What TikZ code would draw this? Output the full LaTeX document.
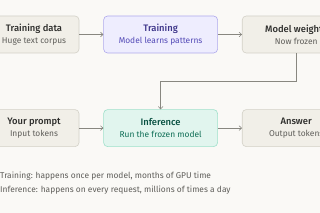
\documentclass[tikz,border=0pt]{standalone}
\usepackage{fontspec}
\setmainfont{Fira Sans}[BoldFont={Fira Sans Medium}]
\usepackage{xcolor}
\usetikzlibrary{positioning,calc,arrows.meta}
\definecolor{pageBg}{HTML}{FAF9F6}
\definecolor{stoneFill}{HTML}{F1EFE8}
\definecolor{stoneLine}{HTML}{D3D1C7}
\definecolor{stoneInk}{HTML}{2C2C2A}
\definecolor{stoneSub}{HTML}{5F5E5A}
\definecolor{violetFill}{HTML}{EEEDFE}
\definecolor{violetLine}{HTML}{AFA9EC}
\definecolor{violetInk}{HTML}{3C3489}
\definecolor{violetSub}{HTML}{534AB7}
\definecolor{mintFill}{HTML}{E1F5EE}
\definecolor{mintLine}{HTML}{9FE1CB}
\definecolor{mintInk}{HTML}{085041}
\definecolor{mintSub}{HTML}{0F6E56}
\definecolor{wireGray}{HTML}{888780}

\begin{document}
\begin{tikzpicture}[x=1pt, y=1pt,
  node distance=56pt and 24pt,
  every node/.style={font=\fontsize{8.4}{12}\selectfont, inner sep=0pt},
  stage/.style ={draw=stoneLine, fill=stoneFill, text=stoneInk, rounded corners=4pt,
                 minimum height=37pt, align=center, line width=0.6pt},
  learn/.style ={stage, draw=violetLine, fill=violetFill, text=violetInk},
  serve/.style ={stage, draw=mintLine, fill=mintFill, text=mintInk},
  note/.style  ={anchor=west, text=stoneSub},
  arrow/.style ={-{To[length=3pt,width=5pt]}, draw=wireGray, line width=0.6pt}]
\fill[pageBg] (0,0) rectangle (320,213);
\useasboundingbox (0,0) rectangle (320,213);
\clip (0,0) rectangle (320,213);
% training row
\node[stage, minimum width=90pt] (corpus) at (34,178.5)
  {{\bfseries\fontsize{9.4}{12}\selectfont Training data}\\{\color{stoneSub}Huge text corpus}};
\node[learn, minimum width=114pt, right=of corpus] (train)
  {{\bfseries\fontsize{9.4}{12}\selectfont Training}\\{\color{violetSub}Model learns patterns}};
\node[stage, minimum width=108pt, right=of train] (weights)
  {{\bfseries\fontsize{9.4}{12}\selectfont Model weights}\\{\color{stoneSub}Now frozen}};
% inference row
\node[stage, minimum width=90pt, below=of corpus] (prompt)
  {{\bfseries\fontsize{9.4}{12}\selectfont Your prompt}\\{\color{stoneSub}Input tokens}};
\node[serve, minimum width=114pt, below=of train] (infer)
  {{\bfseries\fontsize{9.4}{12}\selectfont Inference}\\{\color{mintSub}Run the frozen model}};
\node[stage, minimum width=108pt, below=of weights] (answer)
  {{\bfseries\fontsize{9.4}{12}\selectfont Answer}\\{\color{stoneSub}Output tokens}};
\draw[arrow] (corpus) -- (train);
\draw[arrow] (train) -- (weights);
\draw[arrow] (prompt) -- (infer);
\draw[arrow] (infer) -- (answer);
\draw[arrow] (weights.south) -- ++(0,-28) -| (infer.north);
% footnotes
\node[note] (trainNote) at (0,37) {Training: happens once per model, months of GPU time};
\node[note, below=5pt of trainNote.south west, anchor=north west] (inferNote)
  {Inference: happens on every request, millions of times a day};
\end{tikzpicture}
\end{document}
